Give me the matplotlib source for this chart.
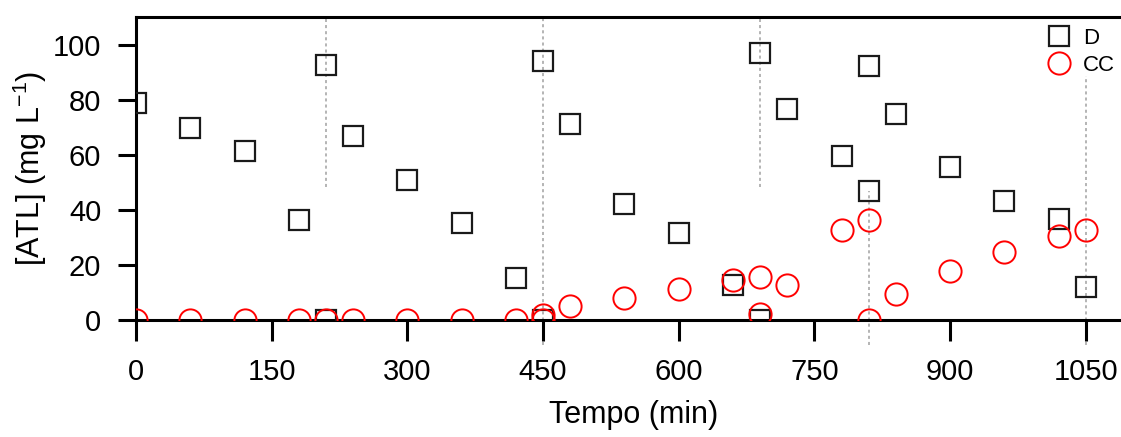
import matplotlib
matplotlib.use("Agg")
import matplotlib.pyplot as plt

plt.rcParams["font.family"] = ["Liberation Sans", "DejaVu Sans"]

# time points (min) and concentrations (mg/L)
d_time = [0, 60, 120, 180, 210, 210, 240, 300, 360, 420, 450, 450, 480, 540,
          600, 660, 690, 690, 720, 780, 810, 810, 840, 900, 960, 1020, 1050]
d_conc = [79, 69.7, 61.3, 36.3, 92.7, 0, 67, 51, 35.2, 15.3, 94.1, 0, 71.1, 42.4,
          31.7, 12.9, 96.9, 0, 76.7, 59.7, 92.1, 46.8, 74.8, 55.7, 43.2, 36.8, 12.1]

cc_time = [0, 60, 120, 180, 210, 240, 300, 360, 420, 450, 450, 480, 540, 600,
           660, 690, 690, 720, 780, 810, 810, 840, 900, 960, 1020, 1050]
cc_conc = [0, 0, 0, 0, 0, 0, 0, 0, 0, 2.1, 0, 5.2, 8.2, 11.3,
           14.5, 15.7, 2.4, 12.9, 32.7, 36.5, 0, 9.6, 18.0, 25.0, 30.5, 32.7]

# dotted cycle markers: x, y start, y end
cycle_x = [210, 450, 690, 810, 1050]
cycle_y0 = [48.5, -9, 48.5, -9, -9]
cycle_y1 = [110, 110, 110, 47, 88.5]

xticks = [0, 150, 300, 450, 600, 750, 900, 1050]
yticks = [0, 20, 40, 60, 80, 100]

fig = plt.figure(figsize=(11.21, 4.37), dpi=100)
ax = fig.add_axes([0.1213, 0.2666, 0.8876, 0.6945])

for x, y0, y1 in zip(cycle_x, cycle_y0, cycle_y1):
    ax.plot([x, x], [y0, y1], color="#a0a0a0", lw=1.1, ls=(0, (2, 2)),
            clip_on=False, zorder=1)

ax.plot(d_time, d_conc, ls="none", marker="s", ms=13.7, mfc="none",
        mec="#1a1a1a", mew=1.6, label="D", zorder=3)
ax.plot(cc_time, cc_conc, ls="none", marker="o", ms=16, mfc="none",
        mec="#ff0000", mew=1.4, label="CC", zorder=4)

ax.set_xlim(0, 1100)
ax.set_ylim(0, 110)
ax.set_xticks(xticks)
ax.set_yticks(yticks)

for s in ["left", "bottom", "top"]:
    ax.spines[s].set_linewidth(2.2)
ax.spines["right"].set_visible(False)

ax.tick_params(axis="x", direction="out", length=15, width=2.2, pad=12,
               labelsize=21)
ax.tick_params(axis="y", direction="out", length=13, width=2.2, pad=12,
               labelsize=21)

ax.set_xlabel("Tempo (min)", fontsize=22, labelpad=10)
ax.set_ylabel("[ATL] (mg L$^{\\mathregular{-1}}$)", fontsize=22, labelpad=3)

ax.legend(loc="upper left", bbox_to_anchor=(0.916, 0.963), frameon=False,
          fontsize=16, handlelength=1.0, handletextpad=0.6, borderpad=0,
          borderaxespad=0, labelspacing=0.25)

fig.savefig("out.png", dpi=100)
